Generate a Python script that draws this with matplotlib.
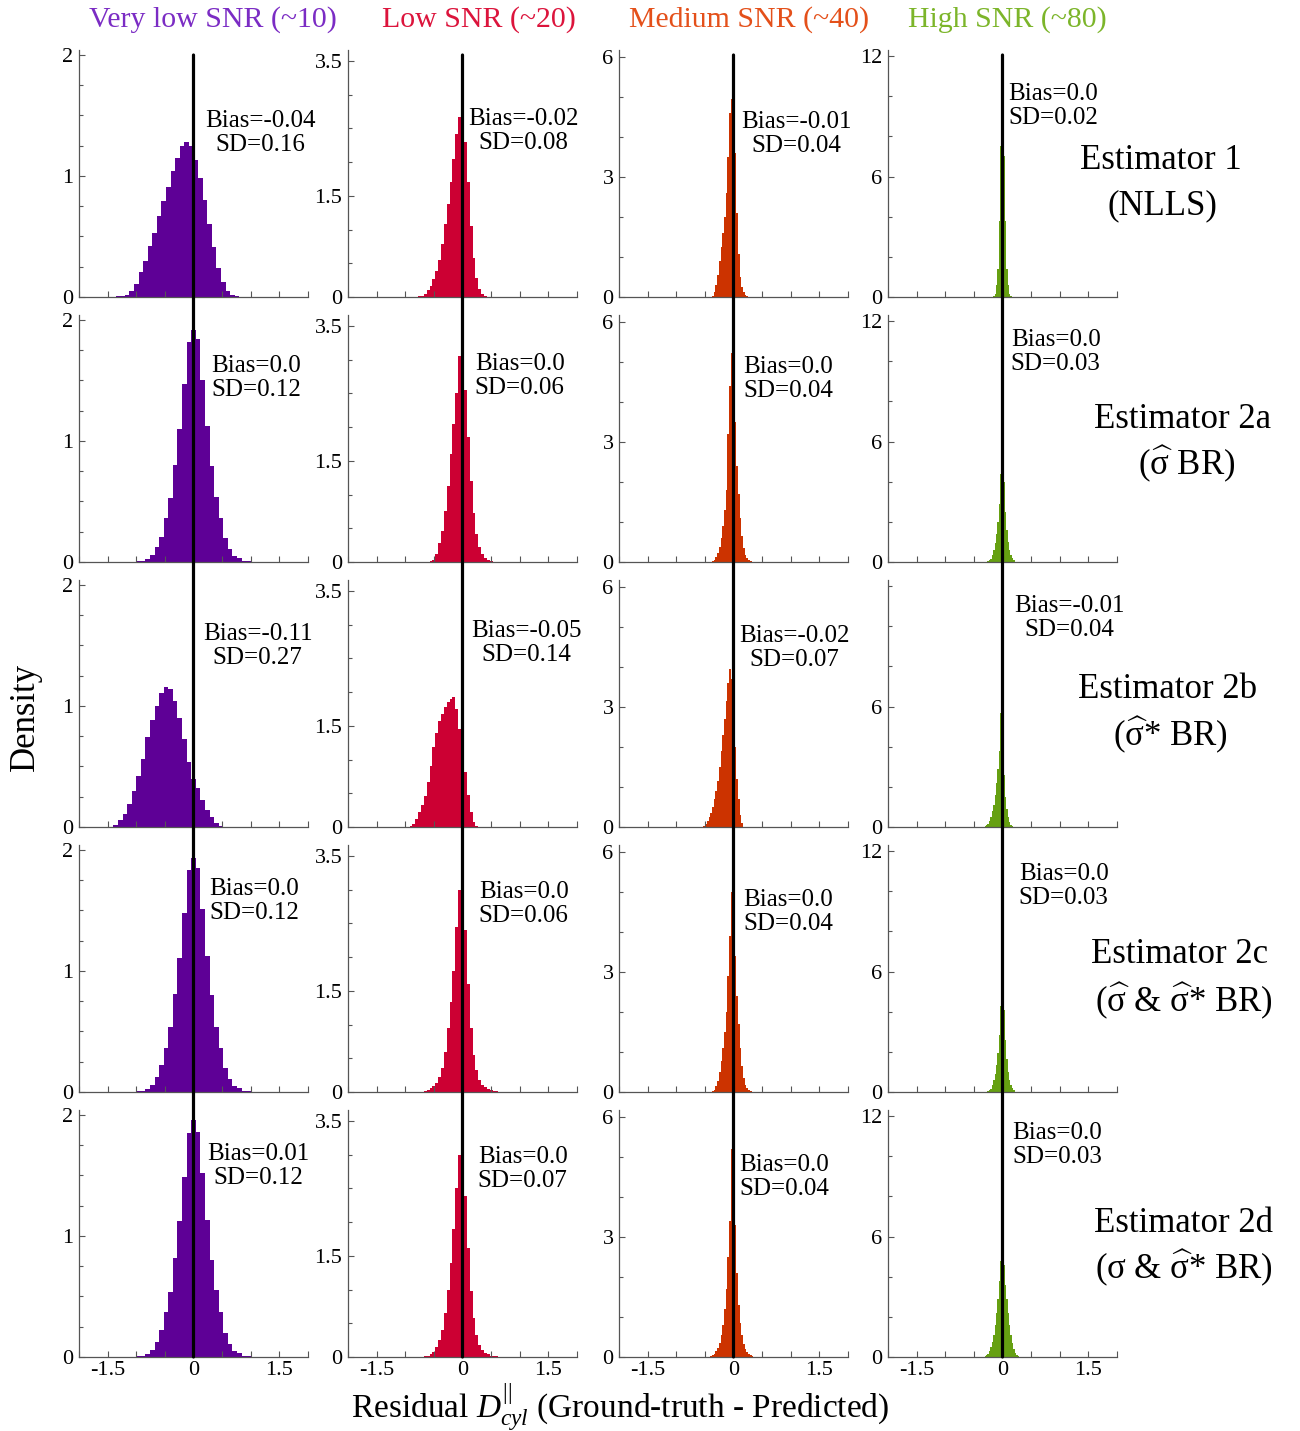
import numpy as np
import matplotlib
matplotlib.use('Agg')
import matplotlib.pyplot as plt
from matplotlib.patches import ConnectionPatch
from matplotlib.ticker import MultipleLocator, FixedLocator, FixedFormatter

plt.rcParams['font.family'] = 'Liberation Serif'
plt.rcParams['mathtext.fontset'] = 'custom'
plt.rcParams['mathtext.rm'] = 'Liberation Serif'
plt.rcParams['mathtext.it'] = 'Liberation Serif:italic'
plt.rcParams['mathtext.bf'] = 'Liberation Serif:bold'

# -----------------------------------------------------------------------------------------
# data: histogram densities per panel (row = estimator, col = SNR)

snr_titles = ['Very low SNR (~10)', 'Low SNR (~20)', 'Medium SNR (~40)', 'High SNR (~80)']
bin_width = [0.08, 0.05, 0.03, 0.025]

# first bin centre of every panel
start_e1 = [-1.32, -0.75, -0.36, -0.15]
start_e2a = [-0.96, -0.55, -0.36, -0.25]
start_e2b = [-1.36, -0.90, -0.51, -0.30]
start_e2c = [-0.96, -0.65, -0.36, -0.25]
start_e2d = [-0.96, -0.65, -0.39, -0.30]

h_e1_vlow = [0.01, 0.01, 0.02, 0.05, 0.11, 0.21, 0.30, 0.42, 0.53, 0.67, 0.79, 0.91, 1.04, 1.15,
             1.25, 1.28, 1.25, 1.13, 0.98, 0.80, 0.60, 0.41, 0.24, 0.12, 0.05, 0.02, 0.01]
h_e1_low = [0.01, 0.02, 0.05, 0.10, 0.17, 0.26, 0.38, 0.55, 0.78, 1.08, 1.38, 1.70, 2.05, 2.42,
            2.66, 2.60, 2.30, 1.70, 1.05, 0.58, 0.28, 0.12, 0.05, 0.01]
h_e1_med = [0.03, 0.12, 0.30, 0.55, 0.90, 1.25, 1.60, 2.00, 2.60, 3.50, 4.60, 4.95, 4.30, 3.60,
            2.10, 1.08, 0.50, 0.25, 0.12, 0.05, 0.02]
h_e1_high = [0.05, 0.17, 0.60, 1.40, 3.80, 7.50, 8.00, 7.00, 3.80, 1.40, 0.60, 0.17, 0.05]

h_e2a_vlow = [0.005, 0.01, 0.025, 0.06, 0.12, 0.21, 0.36, 0.53, 0.80, 1.10, 1.47, 1.82, 1.92,
              1.84, 1.50, 1.12, 0.79, 0.54, 0.36, 0.20, 0.11, 0.05, 0.03, 0.01, 0.005]
h_e2a_low = [0.01, 0.03, 0.12, 0.28, 0.46, 0.75, 1.12, 1.60, 2.05, 2.50, 3.05, 3.37, 2.55, 1.85,
             1.20, 0.72, 0.42, 0.22, 0.12, 0.06, 0.03, 0.01]
h_e2a_med = [0.02, 0.05, 0.12, 0.22, 0.38, 0.60, 0.90, 1.30, 1.80, 3.20, 4.40, 5.22, 4.70, 3.50,
             2.40, 1.70, 1.10, 0.65, 0.35, 0.18, 0.10, 0.05, 0.02]
h_e2a_high = [0.03, 0.08, 0.15, 0.35, 0.60, 0.95, 1.40, 2.00, 2.90, 4.40, 5.50, 4.00, 2.50, 1.60,
              1.00, 0.60, 0.35, 0.20, 0.08]

h_e2b_vlow = [0.02, 0.06, 0.11, 0.19, 0.30, 0.42, 0.56, 0.74, 0.88, 1.00, 1.11, 1.16, 1.14, 1.04,
              0.90, 0.73, 0.54, 0.40, 0.32, 0.22, 0.14, 0.08, 0.03, 0.01]
h_e2b_low = [0.02, 0.05, 0.12, 0.22, 0.33, 0.46, 0.66, 0.90, 1.18, 1.40, 1.57, 1.68, 1.78, 1.85,
             1.90, 1.92, 1.75, 1.45, 1.10, 0.82, 0.48, 0.22, 0.08, 0.02]
h_e2b_med = [0.03, 0.08, 0.15, 0.24, 0.35, 0.50, 0.70, 0.90, 1.15, 1.50, 1.90, 2.30, 2.70, 3.15,
             3.60, 3.94, 3.70, 2.90, 2.00, 1.20, 0.70, 0.30, 0.10]
h_e2b_high = [0.03, 0.08, 0.15, 0.30, 0.50, 0.80, 1.10, 1.60, 2.20, 2.90, 3.80, 5.70, 4.20, 2.60,
              1.50, 0.90, 0.50, 0.25, 0.10, 0.03]

h_e2c_vlow = [0.005, 0.01, 0.025, 0.06, 0.12, 0.22, 0.36, 0.54, 0.81, 1.11, 1.48, 1.83, 1.93,
              1.85, 1.51, 1.12, 0.80, 0.54, 0.36, 0.20, 0.11, 0.05, 0.03, 0.01, 0.005]
h_e2c_low = [0.01, 0.03, 0.06, 0.09, 0.13, 0.22, 0.36, 0.60, 0.95, 1.34, 1.80, 2.45, 3.00, 3.22,
             2.40, 1.60, 0.95, 0.55, 0.32, 0.18, 0.11, 0.08, 0.05, 0.03, 0.02, 0.01]
h_e2c_med = [0.03, 0.06, 0.14, 0.28, 0.50, 0.78, 1.10, 1.50, 2.00, 2.90, 3.90, 5.00, 4.40, 3.40,
             2.40, 1.70, 1.10, 0.65, 0.35, 0.18, 0.09, 0.04, 0.02]
h_e2c_high = [0.03, 0.08, 0.15, 0.33, 0.58, 0.92, 1.35, 1.95, 2.85, 4.30, 5.60, 4.10, 2.60, 1.65,
              1.00, 0.60, 0.35, 0.20, 0.08]

h_e2d_vlow = [0.005, 0.01, 0.025, 0.06, 0.12, 0.22, 0.37, 0.54, 0.82, 1.12, 1.49, 1.85, 1.96,
              1.86, 1.52, 1.13, 0.80, 0.55, 0.37, 0.20, 0.11, 0.05, 0.03, 0.01, 0.005]
h_e2d_low = [0.01, 0.02, 0.04, 0.08, 0.15, 0.25, 0.40, 0.65, 1.00, 1.40, 1.90, 2.50, 3.00, 3.22,
             2.38, 1.62, 0.98, 0.58, 0.32, 0.18, 0.10, 0.06, 0.04, 0.02, 0.01, 0.01]
h_e2d_med = [0.02, 0.04, 0.08, 0.14, 0.22, 0.36, 0.55, 0.80, 1.20, 1.70, 2.50, 3.40, 5.20, 4.90,
             3.30, 2.10, 1.30, 0.85, 0.55, 0.33, 0.20, 0.12, 0.07, 0.04, 0.02, 0.01]
h_e2d_high = [0.03, 0.08, 0.15, 0.30, 0.50, 0.75, 1.10, 1.60, 2.20, 2.90, 3.80, 4.80, 5.20, 4.60,
              3.60, 2.90, 2.20, 1.60, 1.10, 0.70, 0.40, 0.22, 0.10, 0.04]

bias = [['-0.04', '-0.02', '-0.01', '0.0'],
        ['0.0', '0.0', '0.0', '0.0'],
        ['-0.11', '-0.05', '-0.02', '-0.01'],
        ['0.0', '0.0', '0.0', '0.0'],
        ['0.01', '0.0', '0.0', '0.0']]
sd = [['0.16', '0.08', '0.04', '0.02'],
      ['0.12', '0.06', '0.04', '0.03'],
      ['0.27', '0.14', '0.07', '0.04'],
      ['0.12', '0.06', '0.04', '0.03'],
      ['0.12', '0.07', '0.04', '0.03']]

est_name = ['Estimator 1', 'Estimator 2a', 'Estimator 2b', 'Estimator 2c', 'Estimator 2d']
est_sub = ['(NLLS)',
           r'($\widehat{\mathrm{\sigma}}$ BR)',
           r'($\widehat{\mathrm{\sigma}}$* BR)',
           r'($\widehat{\mathrm{\sigma}}$ & $\widehat{\mathrm{\sigma}}$* BR)',
           r'($\mathrm{\sigma}$ & $\widehat{\mathrm{\sigma}}$* BR)']

starts = [start_e1, start_e2a, start_e2b, start_e2c, start_e2d]
heights = [[h_e1_vlow, h_e1_low, h_e1_med, h_e1_high],
           [h_e2a_vlow, h_e2a_low, h_e2a_med, h_e2a_high],
           [h_e2b_vlow, h_e2b_low, h_e2b_med, h_e2b_high],
           [h_e2c_vlow, h_e2c_low, h_e2c_med, h_e2c_high],
           [h_e2d_vlow, h_e2d_low, h_e2d_med, h_e2d_high]]

# -----------------------------------------------------------------------------------------
# layout / style

W, H = 1300., 1431.
hist_colors = ['#5e0096', '#cc0033', '#cc3300', '#66a012']
title_colors = ['#7b2cc4', '#dc143c', '#e4501a', '#7cb52a']
col_left = [79, 348, 619, 888]
row_bottom = [297, 562, 827, 1092, 1357]
ax_w, ax_h = 229, 247
ylims = [2.04, 3.66, 6.17, 12.3]
ymajor = [[0, 1, 2], [0, 1.5, 3.5], [0, 3, 6], [0, 6, 12]]
yminor = [0.25, 0.5, 1., 2.]

# annotation position (x in data units, y in axes fraction)
txt_pos = [[(1.17, .664), (1.06, .672), (1.10, .660), (0.89, .773)],
           [(1.10, .745), (1.00, .753), (0.96, .741), (0.93, .850)],
           [(1.12, .733), (1.12, .745), (1.06, .725), (1.17, .846)],
           [(1.06, .773), (1.07, .761), (0.96, .729), (1.07, .834)],
           [(1.13, .773), (1.05, .761), (0.88, .729), (0.96, .858)]]

title_x = [213, 479, 749, 1007]
est_pos = [(1161, 169, 1162, 214), (1183, 428, 1187, 474), (1168, 698, 1170, 745),
           (1180, 963, 1184, 1011), (1183, 1232, 1184, 1278)]

fig = plt.figure(figsize=(W/100., H/100.), dpi=100)

axes = []
for r in range(5):
    row_axes = []
    for c in range(4):
        ax = fig.add_axes([col_left[c]/W, 1 - row_bottom[r]/H, ax_w/W, ax_h/H])
        n = len(heights[r][c])
        bw = bin_width[c]
        edges = starts[r][c] - bw/2. + bw*np.arange(n + 1)
        ax.stairs(heights[r][c], edges, fill=True, color=hist_colors[c], linewidth=0)

        ax.set_xlim(-2, 2)
        ax.set_ylim(0, ylims[c])
        for s in ['top', 'right']:
            ax.spines[s].set_visible(False)
        for s in ['left', 'bottom']:
            ax.spines[s].set_color('#555555')
            ax.spines[s].set_linewidth(0.9)

        xt = np.arange(-2, 2.01, 0.5)
        ax.xaxis.set_major_locator(FixedLocator(xt))
        if r == 4:
            ax.xaxis.set_major_formatter(FixedFormatter(
                ['' if abs(abs(v) - 1.5) > 1e-6 and abs(v) > 1e-6 else ('%g' % v) for v in xt]))
        else:
            ax.set_xticklabels([])

        yt = ymajor[c]
        if r == 2 and c == 3:
            yt = [0, 6]
        ax.yaxis.set_major_locator(FixedLocator(yt))
        ax.yaxis.set_major_formatter(FixedFormatter(['%g' % v for v in yt]))
        ax.yaxis.set_minor_locator(MultipleLocator(yminor[c]))

        ax.tick_params(axis='both', which='both', direction='in', color='#555555',
                       width=0.8, labelsize=16)
        ax.tick_params(axis='both', which='major', length=4)
        ax.tick_params(axis='y', which='minor', length=3)
        ax.tick_params(axis='y', pad=4)
        ax.tick_params(axis='x', pad=3)

        tx, ty = txt_pos[r][c]
        ax.text(tx, ty, 'Bias=%s\nSD=%s' % (bias[r][c], sd[r][c]),
                transform=ax.get_xaxis_transform(), ha='center', va='center',
                fontsize=18, linespacing=1.15)
        ax.patch.set_alpha(0)
        row_axes.append(ax)
    axes.append(row_axes)

# zero line running through each column
for c in range(4):
    top = (row_bottom[0] - 55) / float(ax_h)
    con = ConnectionPatch(xyA=(0, top), coordsA=axes[0][c].get_xaxis_transform(),
                          xyB=(0, 0), coordsB=axes[4][c].get_xaxis_transform(),
                          color='k', linewidth=2.3, zorder=5)
    fig.add_artist(con)

for c in range(4):
    fig.text(title_x[c]/W, 1 - 20/H, snr_titles[c], color=title_colors[c],
             fontsize=21.5, ha='center', va='center')

for r in range(5):
    x1, y1, x2, y2 = est_pos[r]
    fig.text(x1/W, 1 - y1/H, est_name[r], fontsize=25, ha='center', va='baseline')
    fig.text(x2/W, 1 - y2/H, est_sub[r], fontsize=25, ha='center', va='baseline')

fig.text(25/W, 1 - 717/H, 'Density', rotation=90, fontsize=25, ha='center', va='center')
fig.text(620/W, 1 - 1418/H, r'Residual $D_{cyl}^{||}$ (Ground-truth - Predicted)',
         fontsize=24, ha='center', va='baseline')

plt.savefig('out.png', dpi=100)
